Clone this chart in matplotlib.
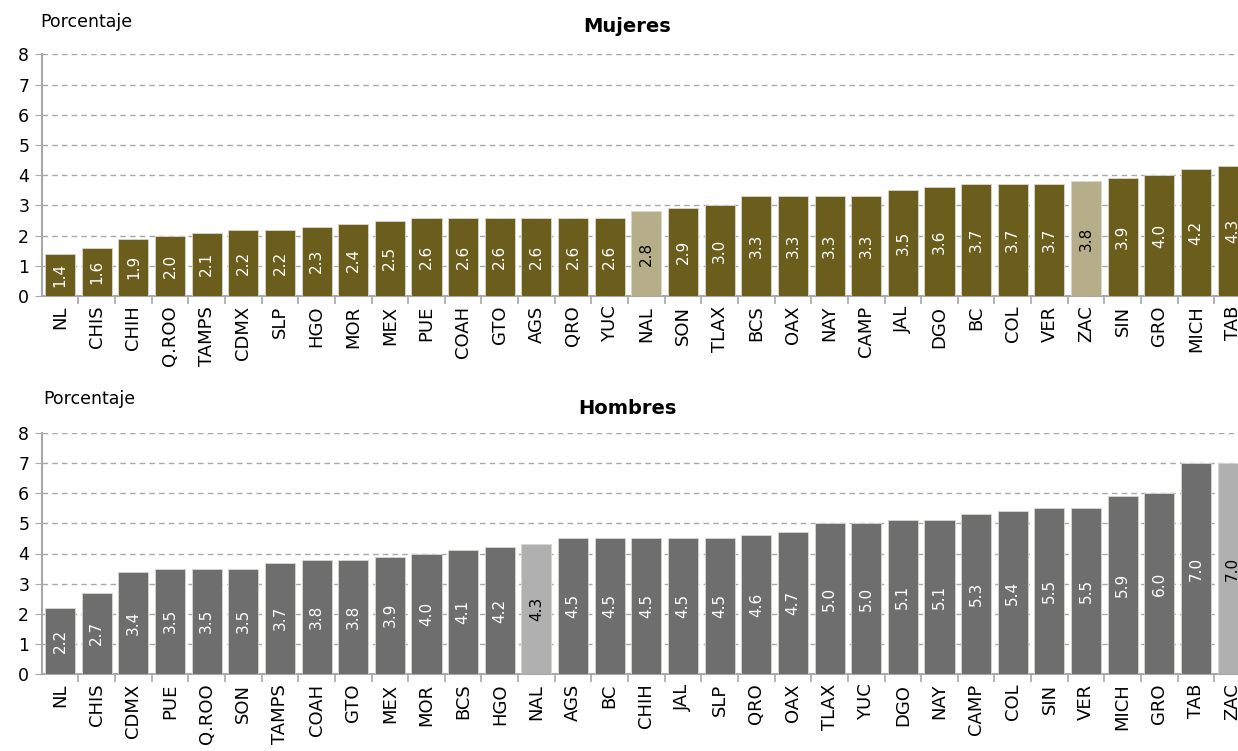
import matplotlib
matplotlib.use("Agg")
import matplotlib.pyplot as plt

plt.rcParams['font.family'] = ['DejaVu Sans']

# Mujeres
estados_m = ["NL", "CHIS", "CHIH", "Q.ROO", "TAMPS", "CDMX", "SLP", "HGO", "MOR", "MEX",
             "PUE", "COAH", "GTO", "AGS", "QRO", "YUC", "NAL", "SON", "TLAX", "BCS",
             "OAX", "NAY", "CAMP", "JAL", "DGO", "BC", "COL", "VER", "ZAC", "SIN",
             "GRO", "MICH", "TAB"]
valores_m = [1.4, 1.6, 1.9, 2.0, 2.1, 2.2, 2.2, 2.3, 2.4, 2.5,
             2.6, 2.6, 2.6, 2.6, 2.6, 2.6, 2.8, 2.9, 3.0, 3.3,
             3.3, 3.3, 3.3, 3.5, 3.6, 3.7, 3.7, 3.7, 3.8, 3.9,
             4.0, 4.2, 4.3]

# Hombres
estados_h = ["NL", "CHIS", "CDMX", "PUE", "Q.ROO", "SON", "TAMPS", "COAH", "GTO", "MEX",
             "MOR", "BCS", "HGO", "NAL", "AGS", "BC", "CHIH", "JAL", "SLP", "QRO",
             "OAX", "TLAX", "YUC", "DGO", "NAY", "CAMP", "COL", "SIN", "VER", "MICH",
             "GRO", "TAB", "ZAC"]
valores_h = [2.2, 2.7, 3.4, 3.5, 3.5, 3.5, 3.7, 3.8, 3.8, 3.9,
             4.0, 4.1, 4.2, 4.3, 4.5, 4.5, 4.5, 4.5, 4.5, 4.6,
             4.7, 5.0, 5.0, 5.1, 5.1, 5.3, 5.4, 5.5, 5.5, 5.9,
             6.0, 7.0, 7.0]

resaltados = ["NAL", "ZAC"]

fig = plt.figure(figsize=(12.38, 7.51), dpi=100)
W, H = 1238, 751


def panel(top_px, bottom_px, estados, valores, color, color_res, titulo, title_y, porc_y, porc_x):
    left = 41.7 / W
    right = 1251 / W
    ax = fig.add_axes([left, 1 - bottom_px / H, right - left, (bottom_px - top_px) / H])
    x = list(range(len(estados)))
    colores = [color_res if e in resaltados else color for e in estados]
    ax.bar(x, valores, width=0.82, color=colores, edgecolor='#d8d8d0', linewidth=0.6, zorder=3)
    for i, (e, v) in enumerate(zip(estados, valores)):
        tc = 'black' if e in resaltados else 'white'
        ax.text(i, v / 2, f"{v:.1f}", rotation=90, ha='center', va='center',
                fontsize=11, color=tc, zorder=4)
    ax.set_xlim(-0.5, len(estados) - 0.5)
    ax.set_ylim(0, 8)
    ax.set_yticks(range(0, 9))
    ax.yaxis.grid(True, linestyle=(0, (4, 3)), color='#a8a8a8', linewidth=1, zorder=0)
    ax.set_xticks(x)
    ax.set_xticklabels(estados, rotation=90, fontsize=13)
    ax.set_xticks([i + 0.5 for i in x], minor=True)
    ax.tick_params(axis='x', which='major', length=0, pad=7)
    ax.tick_params(axis='x', which='minor', length=6, color='#a8a8a8', width=1.2)
    ax.tick_params(axis='y', length=5, color='#a8a8a8', labelsize=12.5, pad=4)
    for s in ['top', 'right']:
        ax.spines[s].set_visible(False)
    for s in ['left', 'bottom']:
        ax.spines[s].set_color('#a8a8a8')
        ax.spines[s].set_linewidth(1.5)
    fig.text(627 / W, 1 - title_y / H, titulo, ha='center', va='center',
             fontsize=14, fontweight='bold')
    fig.text(porc_x / W, 1 - porc_y / H, "Porcentaje", ha='left', va='center', fontsize=12.5)
    return ax


panel(54.5, 296, estados_m, valores_m, '#6b5d1b', '#b6ae89', "Mujeres", 27, 22, 40)
panel(433, 674, estados_h, valores_h, '#6e6e6e', '#b0b0b0', "Hombres", 409, 399, 43)

fig.savefig("out.png", dpi=100)
